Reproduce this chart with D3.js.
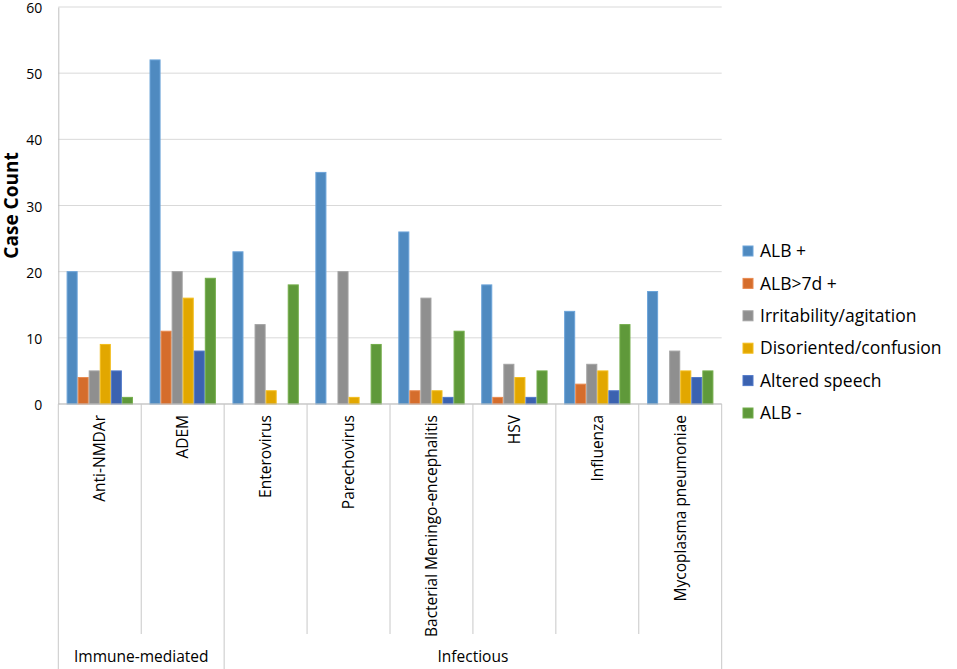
<!DOCTYPE html>
<meta charset="utf-8">
<script src="https://d3js.org/d3.v7.min.js"></script>
<style>
  body { margin: 0; background: #fff; }
  text { font-family: "Open Sans", sans-serif; fill: #000; }
</style>
<div id="chart"></div>
<script>

// categories, groups and series
var categories = ["Anti-NMDAr", "ADEM", "Enterovirus", "Parechovirus",
                  "Bacterial Meningo-encephalitis", "HSV", "Influenza", "Mycoplasma pneumoniae"];
var groups = [
  {name: "Immune-mediated", first: 0, last: 1},
  {name: "Infectious", first: 2, last: 7}
];
var seriesNames = ["ALB +", "ALB>7d +", "Irritability/agitation",
                   "Disoriented/confusion", "Altered speech", "ALB -"];

var albPos      = [20, 52, 23, 35, 26, 18, 14, 17];
var alb7d       = [4, 11, 0, 0, 2, 1, 3, 0];
var irritable   = [5, 20, 12, 20, 16, 6, 6, 8];
var disoriented = [9, 16, 2, 1, 2, 4, 5, 5];
var speech      = [5, 8, 0, 0, 1, 1, 2, 4];
var albNeg      = [1, 19, 18, 9, 11, 5, 12, 5];

var yTicks = [0, 10, 20, 30, 40, 50, 60];

var fills   = ["#4f8ac0", "#d56d2c", "#8f8f8f", "#e2a700", "#3b62b0", "#5f993a"];
var strokes = ["#6ca4d9", "#e88a50", "#a3a3a3", "#f3bd1c", "#5079c9", "#73ad4a"];

var seriesValues = [albPos, alb7d, irritable, disoriented, speech, albNeg];

var W = 957, H = 669;
var plotLeft = 58.3, plotRight = 721.7, plotTop = 7, plotBottom = 404;

var svg = d3.select("#chart").append("svg")
    .attr("width", W)
    .attr("height", H);

var x0 = d3.scaleBand()
    .domain(categories)
    .range([plotLeft, plotRight])
    .padding(0);

var x1 = d3.scaleBand()
    .domain(seriesNames)
    .range([0, x0.bandwidth()])
    .paddingInner(0)
    .paddingOuter(0.75);

var y = d3.scaleLinear()
    .domain([0, 60])
    .range([plotBottom, plotTop]);

// gridlines
svg.append("g")
    .selectAll("line")
    .data(yTicks)
    .enter().append("line")
    .attr("x1", plotLeft).attr("x2", plotRight)
    .attr("y1", function(d) { return y(d); })
    .attr("y2", function(d) { return y(d); })
    .attr("stroke", "#d9d9d9")
    .attr("stroke-width", 1);

// y axis
var yAxis = svg.append("g")
    .attr("transform", "translate(" + plotLeft + ",0)")
    .call(d3.axisLeft(y).tickValues(yTicks).tickSize(0).tickPadding(16));
yAxis.select(".domain").attr("stroke", "#bfbfbf");
yAxis.selectAll("text")
    .style("font-family", "Open Sans")
    .style("font-size", "14px")
    .attr("dy", "0.4em")
    .attr("fill", "#000");

svg.append("text")
    .attr("transform", "translate(17.5," + ((plotTop + plotBottom) / 2) + ") rotate(-90)")
    .attr("text-anchor", "middle")
    .style("font-size", "19px")
    .style("font-weight", "bold")
    .text("Case Count");

// bars
var layer = svg.append("g")
    .selectAll("g")
    .data(categories)
    .enter().append("g")
    .attr("transform", function(d) { return "translate(" + x0(d) + ",0)"; });

layer.selectAll("rect")
    .data(function(d, i) {
        return seriesNames.map(function(s, j) {
            return {key: s, idx: j, value: seriesValues[j][i]};
        });
    })
    .enter().append("rect")
    .filter(function(d) { return d.value > 0; })
    .attr("x", function(d) { return x1(d.key) + 0.5; })
    .attr("width", x1.bandwidth() - 1)
    .attr("y", function(d) { return y(d.value); })
    .attr("height", function(d) { return plotBottom - y(d.value); })
    .attr("fill", function(d) { return fills[d.idx]; })
    .attr("stroke", function(d) { return strokes[d.idx]; })
    .attr("stroke-width", 1);

// x axis line
svg.append("line")
    .attr("x1", plotLeft).attr("x2", plotRight)
    .attr("y1", plotBottom).attr("y2", plotBottom)
    .attr("stroke", "#bfbfbf");

// category separators, group edges run to the bottom
var groupEdges = [];
groups.forEach(function(g) { groupEdges.push(g.first); });
groupEdges.push(categories.length);

svg.append("g")
    .selectAll("line")
    .data(d3.range(categories.length + 1))
    .enter().append("line")
    .attr("x1", function(i) { return plotLeft + i * x0.step(); })
    .attr("x2", function(i) { return plotLeft + i * x0.step(); })
    .attr("y1", plotBottom)
    .attr("y2", function(i) { return groupEdges.indexOf(i) >= 0 ? H : 634; })
    .attr("stroke", "#c8c8c8");

// category labels
svg.append("g")
    .selectAll("text")
    .data(categories)
    .enter().append("text")
    .attr("transform", function(d) {
        return "translate(" + (x0(d) + x0.bandwidth() / 2) + ",415) rotate(-90)";
    })
    .attr("text-anchor", "end")
    .attr("dy", "0.35em")
    .style("font-size", "15.5px")
    .text(function(d) { return d; });

// group labels
svg.append("g")
    .selectAll("text")
    .data(groups)
    .enter().append("text")
    .attr("x", function(g) {
        return (x0(categories[g.first]) + x0(categories[g.last]) + x0.bandwidth()) / 2;
    })
    .attr("y", 657)
    .attr("dy", "0.35em")
    .attr("text-anchor", "middle")
    .style("font-size", "15.5px")
    .text(function(g) { return g.name; });

// legend
var legend = svg.append("g")
    .selectAll("g")
    .data(seriesNames)
    .enter().append("g")
    .attr("transform", function(d, i) { return "translate(743," + (251 + i * 32.4) + ")"; });

legend.append("rect")
    .attr("x", 0).attr("y", -5)
    .attr("width", 10).attr("height", 10)
    .attr("fill", function(d, i) { return fills[i]; })
    .attr("stroke", function(d, i) { return strokes[i]; });

legend.append("text")
    .attr("x", 17)
    .attr("dy", "0.35em")
    .style("font-size", "17.5px")
    .text(function(d) { return d; });

</script>
